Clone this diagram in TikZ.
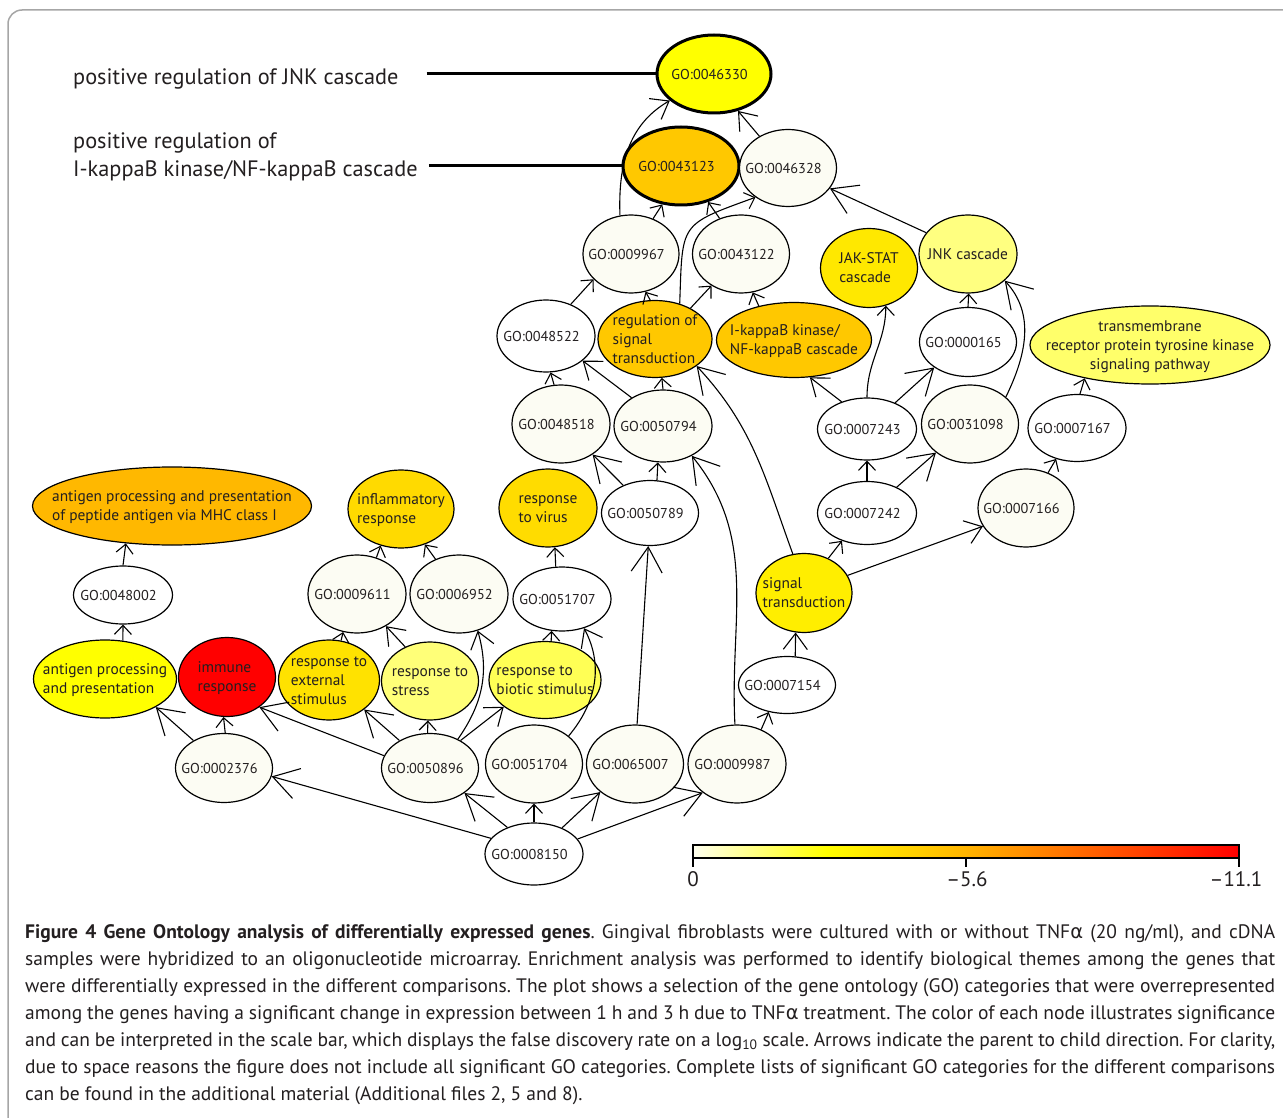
\documentclass[tikz,border=0pt]{standalone}
\usepackage{fontspec}
\setmainfont{PT Sans}
\newfontfamily\grkfont{DejaVu Sans}
\usetikzlibrary{shapes.geometric,arrows.meta}

\definecolor{ink}{HTML}{231F20}
\definecolor{cpale}{HTML}{FCFCF3}
\definecolor{cyel}{HTML}{FFFF00}
\definecolor{corange}{HTML}{FFC800}
\definecolor{cjak}{HTML}{FFE800}
\definecolor{cjnk}{HTML}{FFFF80}
\definecolor{ctmr}{HTML}{FFFF6A}
\definecolor{cmhc}{HTML}{FFB800}
\definecolor{cinfl}{HTML}{FFDA00}
\definecolor{cvirus}{HTML}{FFDC00}
\definecolor{csig}{HTML}{FFEE00}
\definecolor{cred}{HTML}{FF0000}
\definecolor{cext}{HTML}{FFE200}
\definecolor{cstress}{HTML}{FFFF78}
\definecolor{cbiotic}{HTML}{FFFF55}
\definecolor{cbar}{HTML}{FFFFF0}
\definecolor{cbarmid}{HTML}{FFB400}

% text of a term, centred in its ellipse
\newcommand{\termtxt}[2][l]{\smash{\makebox[0pt]{\raisebox{-.33em}{\begin{tabular}{@{}#1@{}}#2\end{tabular}}}}}
\newcommand{\goid}[1]{\smash{\makebox[0pt]{\fontsize{14.3}{19}\selectfont\raisebox{-.35em}{GO:#1}\hspace{9pt}}}}
% caption: no hyphens, spaces may shrink a bit
\newcommand{\capfont}{\fontsize{19.5}{27}\selectfont\frenchspacing\hyphenpenalty=10000
  \spaceskip=0.26em plus 0.5em minus 0.1em}

\tikzset{
  goterm/.style={ellipse, draw, line width=1.2pt, inner sep=0pt, fill=#1, text=ink,
    font=\fontsize{15.4}{19}\selectfont},
  goterm/.default=cpale,
  keyterm/.style={goterm=#1, line width=3pt},
  sz/.style 2 args={minimum width=#1pt, minimum height=#2pt},
  link/.style={line width=1.1pt, -{Straight Barb[length=9pt,width=17pt]}},
  linkm/.style={line width=1.1pt, -{Straight Barb[length=16pt,width=24pt]}},
  linkl/.style={line width=1.1pt, -{Straight Barb[length=25pt,width=31pt]}},
}

\begin{document}
\begin{tikzpicture}[x=1pt,y=-1pt,
    pointer/.style={line width=3pt},
    side/.style={text=ink, inner sep=0pt, font=\fontsize{22.3}{28}\selectfont},
    barlabel/.style={text=ink, font=\fontsize{21}{24}\selectfont}]
    \useasboundingbox (0,0) rectangle (1283,1118);
    \fill[white] (0,0) rectangle (1283,1118);
    \draw[gray!70, line width=1.5pt, rounded corners=14pt] (8,1140) -- (8,10) -- (1300,10);

    % top of the graph
    \node[keyterm=cyel, sz={114}{78}] (n46330) at (714,74) {\goid{0046330}};
    \node[keyterm=corange, sz={116}{78}] (n43123) at (681,166) {\goid{0043123}};
    \node[goterm, sz={97}{77}] (n46328) at (788,168) {\goid{0046328}};
    \node[goterm, sz={96}{78}] (n9967) at (631,254) {\goid{0009967}};
    \node[goterm, sz={97}{78}] (n43122) at (741,254) {\goid{0043122}};
    \node[goterm=cjak, sz={97}{79}] (jakstat) at (869,268) {\termtxt{JAK-STAT\\cascade}};
    \node[goterm=cjnk, sz={98}{78}] (jnk) at (968,254) {\termtxt{JNK cascade}};
    \node[goterm=white, sz={98}{72}] (n48522) at (546,336) {\goid{0048522}};
    \node[goterm=corange, sz={114}{77}] (regsig) at (655,339) {\termtxt{regulation of\\signal\\transduction}};
    \node[goterm=corange, sz={155}{75}] (ikappa) at (794,340) {\termtxt{I-kappaB kinase/\\NF-kappaB cascade}};
    \node[goterm=white, sz={97}{69}] (n165) at (968,342) {\goid{0000165}};
    \node[goterm=ctmr, sz={240}{78}] (tmr) at (1150,345) {\termtxt[c]{transmembrane\\receptor protein tyrosine kinase\\signaling pathway}};
    \node[goterm, sz={98}{78}] (n48518) at (561,424) {\goid{0048518}};
    \node[goterm, sz={98}{72}] (n50794) at (663,426) {\goid{0050794}};
    \node[goterm=white, sz={99}{62}] (n7243) at (867,429) {\goid{0007243}};
    \node[goterm, sz={97}{78}] (n31098) at (970,424) {\goid{0031098}};
    \node[goterm=white, sz={98}{67}] (n7167) at (1077,428) {\goid{0007167}};

    % middle rows
    \node[goterm=cmhc, sz={279}{78}] (mhc) at (172,506) {\termtxt{antigen processing and presentation\\of peptide antigen via MHC class I}};
    \node[goterm=cinfl, sz={106}{78}] (inflam) at (401,509) {\termtxt{inflammatory\\response}};
    \node[goterm=cvirus, sz={98}{78}] (virus) at (548,508) {\termtxt{response\\to virus}};
    \node[goterm=white, sz={97}{65}] (n50789) at (650,513) {\goid{0050789}};
    \node[goterm=white, sz={99}{63}] (n7242) at (867,513) {\goid{0007242}};
    \node[goterm, sz={96}{78}] (n7166) at (1026,508) {\goid{0007166}};
    \node[goterm=white, sz={99}{58}] (n48002) at (123,595) {\goid{0048002}};
    \node[goterm, sz={98}{78}] (n9611) at (357,594) {\goid{0009611}};
    \node[goterm, sz={98}{78}] (n6952) at (459,594) {\goid{0006952}};
    \node[goterm=white, sz={98}{64}] (n51707) at (562,599) {\goid{0051707}};
    \node[goterm=csig, sz={96}{79}] (sigtrans) at (804,593) {\termtxt{signal\\transduction}};
    \node[goterm=cyel, sz={143}{78}] (antigen) at (105,679) {\termtxt{antigen processing\\and presentation}};
    \node[goterm=cred, sz={97}{79}] (immune) at (227,677) {\termtxt{immune\\response}};
    \node[goterm=cext, sz={101}{80}] (extstim) at (329,680) {\termtxt{response to\\external\\stimulus}};
    \node[goterm=cstress, sz={97}{78}] (stress) at (430,681) {\termtxt{response to\\stress}};
    \node[goterm=cbiotic, sz={112}{77}] (biotic) at (545,680) {\termtxt{response to\\biotic stimulus}};
    \node[goterm=white, sz={97}{57}] (n7154) at (787,685) {\goid{0007154}};

    % bottom rows
    \node[goterm, sz={97}{69}] (n2376) at (224,768) {\goid{0002376}};
    \node[goterm, sz={97}{69}] (n50896) at (430,768) {\goid{0050896}};
    \node[goterm, sz={97}{78}] (n51704) at (534,764) {\goid{0051704}};
    \node[goterm, sz={97}{78}] (n65007) at (635,764) {\goid{0065007}};
    \node[goterm, sz={98}{78}] (n9987) at (737,764) {\goid{0009987}};
    \node[goterm=white, sz={98}{62}] (n8150) at (534,854) {\goid{0008150}};

    % child -> parent
    \draw[linkm] (n46328.132) -- (n46330.-57);
    \draw[linkm] (n9967.106) to[out=92,in=210] (n46330.211);
    \draw[link] (n9967.58) -- (n43123.244);
    \draw[link] (n43122.121) -- (n43123.307);
    \draw[link] (regsig.97) -- (n9967.-69);
    \draw[link] (regsig.41) -- (n43122.227);
    \draw[link] (regsig.55) to[out=88,in=200,looseness=1.6] (n46328.222);
    \draw[link] (ikappa.136) -- (n43122.-73);
    \draw[linkl] (jnk.153) -- (n46328.-26);
    \draw[link] (n48522.52) -- (n9967.214);
    \draw[link] (n48518.100) -- (n48522.-83);
    \draw[linkm] (n50794.138) -- (n48522.-34);
    \draw[link] (n50794.90) -- (regsig.-80);
    \draw[linkl] (sigtrans.106) to[out=110,in=-47] (regsig.-33);
    \draw[linkm] (n7243.133) -- (ikappa.-67);
    \draw[link] (n7243.90) to[out=90,in=-90] (jakstat.-66);
    \draw[linkl] (n7243.43) -- (n165.217);
    \draw[link] (n165.90) -- (jnk.-89);
    \draw[linkl] (n31098.37) to[out=64,in=-47] (jnk.-36);
    \draw[link] (n7167.85) -- (tmr.-153);
    \draw[link] (n7242.90) -- (n7243.-90);
    \draw[linkl] (n7242.41) -- (n31098.220);
    \draw[link] (n7166.58) -- (n7167.236);
    \draw[link] (sigtrans.55) -- (n7242.228);
    \draw[linkm] (sigtrans.22) -- (n7166.203);
    \draw[linkm] (n7154.74) -- (sigtrans.258);
    \draw[link] (n9987.55) -- (n7154.236);
    \draw[linkl] (n9987.93) to[out=93,in=-51] (n50794.-46);
    \draw[linkl] (n65007.87) -- (n50789.-93);
    \draw[link] (n50789.78) -- (n50794.-98);
    \draw[linkl] (n50789.134) -- (n48518.-44);
    \draw[link] (n51707.101) -- (virus.-80);
    \draw[link] (biotic.81) -- (n51707.-108);
    \draw[linkm] (n51704.39) to[out=50,in=-62] (n51707.-53);
    \draw[linkm] (n50896.42) -- (biotic.213);
    \draw[linkm] (n50896.46) to[out=55,in=-74] (n6952.-63);
    \draw[link] (n50896.94) -- (stress.-93);
    \draw[linkl] (n50896.138) -- (extstim.-40);
    \draw[linkl] (n50896.165) -- (immune.-43);
    \draw[link] (n2376.88) -- (immune.-95);
    \draw[linkl] (n2376.138) -- (antigen.-29);
    \draw[link] (antigen.65) -- (n48002.-90);
    \draw[link] (n48002.90) -- (mhc.-141);
    \draw[link] (extstim.73) -- (n9611.-110);
    \draw[linkm] (stress.126) -- (n9611.-48);
    \draw[link] (n9611.62) -- (inflam.-119);
    \draw[link] (n6952.124) -- (inflam.-56);
    \draw[linkl] (n8150.160) -- (n2376.-10);
    \draw[linkl] (n8150.135) -- (n50896.-36);
    \draw[link] (n8150.90) -- (n51704.-90);
    \draw[linkl] (n8150.43) -- (n65007.219);
    \draw[linkl] (n8150.19) -- (n9987.220);

    % names of the two key terms
    \node[side, anchor=west] (lbljnk) at (73,79) {positive regulation of JNK cascade};
    \node[side, anchor=west, align=left] (lblikb) at (73,157) {positive regulation of\\I-kappaB kinase/NF-kappaB cascade};
    \draw[pointer] (lbljnk.east |- n46330.west) ++(28,0) -- (n46330.west);
    \draw[pointer] (lblikb.east |- n43123.west) ++(11,0) -- (n43123.west);

    % scale bar
    \shade[left color=cbar, right color=cyel] (693,845) rectangle (826,858);
    \shade[left color=cyel, right color=cbarmid] (826,845) rectangle (966,858);
    \shade[left color=cbarmid, right color=cred] (966,845) rectangle (1239,858);
    \draw[line width=2.5pt] (693,845) rectangle (1239,858);
    \foreach \x in {693,966,1239}
        \draw[line width=1.5pt] (\x,858) -- (\x,867);
    \node[barlabel] (cb0) at (693,879) {0};
    \node[barlabel] (cb56) at (967,879) {–5.6};
    \node[barlabel] (cb111) at (1236,879) {–11.1};

    \node[anchor=north west, inner sep=0pt, text width=1250pt, align=justify, text=ink,
        font=\capfont] (caption) at (25,924)
        {\textbf{Figure 4 Gene Ontology analysis of differentially expressed genes}. Gingival fibroblasts were cultured with or without TNF{\grkfont α} (20 ng/ml), and cDNA\linebreak
        samples were hybridized to an oligonucleotide microarray. Enrichment analysis was performed to identify biological themes among the genes that\linebreak
        were differentially expressed in the different comparisons. The plot shows a selection of the gene ontology (GO) categories that were overrepresented\linebreak
        among the genes having a significant change in expression between 1 h and 3 h due to TNF{\grkfont α} treatment. The color of each node illustrates significance\linebreak
        and can be interpreted in the scale bar, which displays the false discovery rate on a log\textsubscript{10} scale. Arrows indicate the parent to child direction. For clarity,\linebreak
        due to space reasons the figure does not include all significant GO categories. Complete lists of significant GO categories for the different comparisons\linebreak
        can be found in the additional material (Additional files 2, 5 and 8).};
\end{tikzpicture}
\end{document}
